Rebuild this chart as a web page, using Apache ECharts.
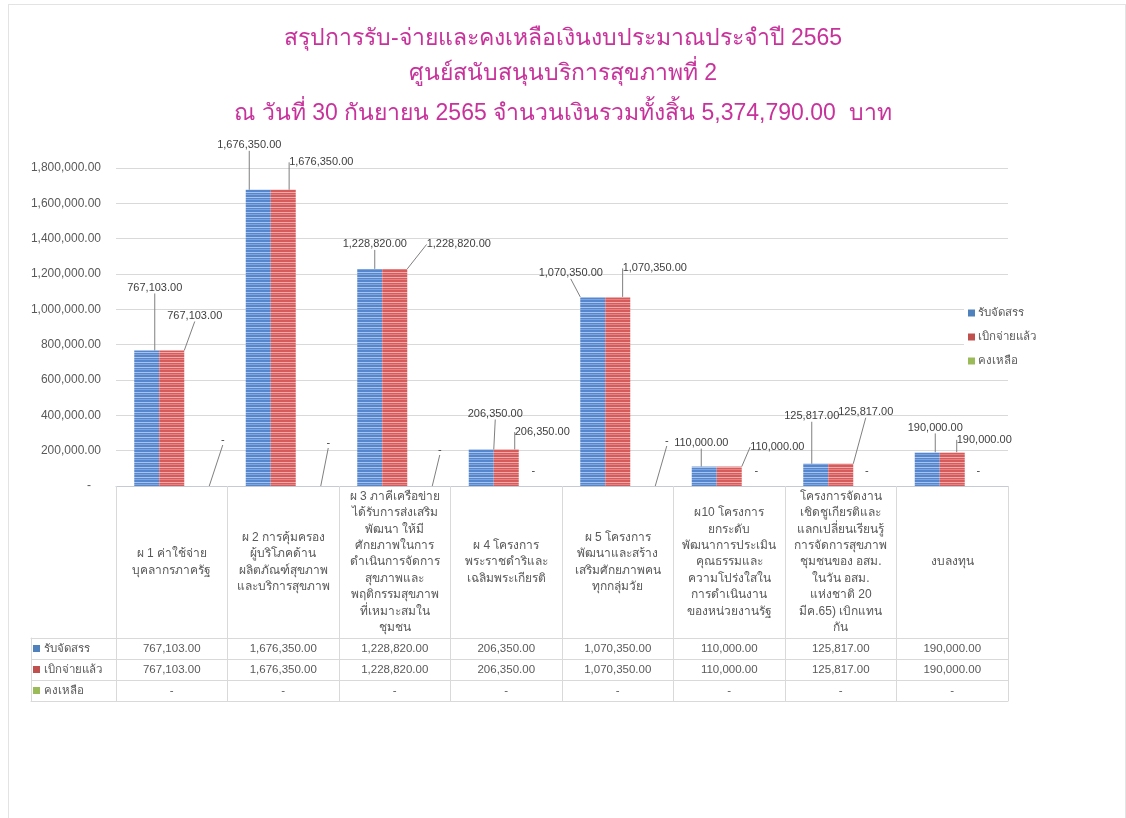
<!DOCTYPE html>
<html>
<head>
<meta charset="utf-8">
<title>สรุปการรับ-จ่ายและคงเหลือเงินงบประมาณ 2565</title>
<script src="https://cdn.jsdelivr.net/npm/echarts@6/dist/echarts.min.js"></script>
<style>
	html, body { margin: 0; padding: 0; background: #fff; }
	#content { width: 1126px; height: 818px; }
	#frame { position: absolute; left: 8px; top: 4px; width: 1116px; height: 830px; border: 1px solid #e3e3e3; pointer-events: none; }
</style>
</head>
<body>
<div id="content"></div>
<div id="frame"></div>
<script>
/* data */
var titleLines = [
	'สรุปการรับ-จ่ายและคงเหลือเงินงบประมาณประจำปี 2565',
	'ศูนย์สนับสนุนบริการสุขภาพที่ 2',
	'ณ วันที่ 30 กันยายน 2565 จำนวนเงินรวมทั้งสิ้น 5,374,790.00  บาท'
];
var categories = [
	'ผ 1 ค่าใช้จ่าย\nบุคลากรภาครัฐ',
	'ผ 2 การคุ้มครอง\nผู้บริโภคด้าน\nผลิตภัณฑ์สุขภาพ\nและบริการสุขภาพ',
	'ผ 3 ภาคีเครือข่าย\nได้รับการส่งเสริม\nพัฒนา ให้มี\nศักยภาพในการ\nดำเนินการจัดการ\nสุขภาพและ\nพฤติกรรมสุขภาพ\nที่เหมาะสมใน\nชุมชน',
	'ผ 4 โครงการ\nพระราชดำริและ\nเฉลิมพระเกียรติ',
	'ผ 5 โครงการ\nพัฒนาและสร้าง\nเสริมศักยภาพคน\nทุกกลุ่มวัย',
	'ผ10 โครงการ\nยกระดับ\nพัฒนาการประเมิน\nคุณธรรมและ\nความโปร่งใสใน\nการดำเนินงาน\nของหน่วยงานรัฐ',
	'โครงการจัดงาน\nเชิดชูเกียรติและ\nแลกเปลี่ยนเรียนรู้\nการจัดการสุขภาพ\nชุมชนของ อสม.\nในวัน อสม.\nแห่งชาติ 20\nมีค.65) เบิกแทน\nกัน',
	'งบลงทุน'
];
var seriesNames = ['รับจัดสรร', 'เบิกจ่ายแล้ว', 'คงเหลือ'];
var allocated = [767103, 1676350, 1228820, 206350, 1070350, 110000, 125817, 190000];
var spent     = [767103, 1676350, 1228820, 206350, 1070350, 110000, 125817, 190000];
var remaining = [0, 0, 0, 0, 0, 0, 0, 0];
var yTicks = { min: 0, max: 1800000, step: 200000 };

/* label moves (layout only) */
var allocShift = [[8,-52],[-9,-34],[5,-14],[14,-25],[-22,-13],[-3,-13],[-4,-37],[8,-14]];
var spentShift = [[23,-24],[38,-17],[64,-14],[36,-7],[37,-18],[48,-9],[25,-41],[32,-2]];
var remainShift = [[26,-36],[20,-33],[20,-26],[2,-5],[24,-35],[2,-5],[1,-5],[1,-5]];
var remainLeader = [true, true, true, false, true, false, false, false];

var colors = ['#4f81bd', '#c0504d', '#9bbb59'];
var FONT = '"Liberation Sans", "DejaVu Sans", "Noto Sans", sans-serif';
var GREY = '#595959';
var LINE = '#d9d9d9';

function money(v){
	if(v === 0) return '-';
	return v.toLocaleString('en-US', {minimumFractionDigits: 2, maximumFractionDigits: 2});
}

/* striped fill like the excel pattern */
function stripes(base, light){
	var c = document.createElement('canvas');
	c.width = 4; c.height = 5;
	var g = c.getContext('2d');
	g.fillStyle = base; g.fillRect(0, 0, 4, 5);
	g.fillStyle = light; g.fillRect(0, 2, 4, 1);
	g.globalAlpha = 0.5; g.fillRect(0, 4, 4, 1);
	return { image: c, repeat: 'repeat' };
}

window.onload = function(){

	var myChart = echarts.init(document.getElementById('content'));

	var HEAD = 152, ROW = 21;
	var rows = [allocated, spent, remaining];

	/* main x axes: header cells + one axis per table row */
	var xAxes = [{
		gridIndex: 0,
		type: 'category',
		data: categories,
		axisLine: { lineStyle: { color: '#c5cbd6' } },
		axisTick: { show: true, alignWithLabel: false, length: HEAD + ROW * 3, lineStyle: { color: LINE } },
		axisLabel: { interval: 0, margin: HEAD / 2, verticalAlign: 'middle', lineHeight: 16.4, fontSize: 12, color: GREY, fontFamily: FONT }
	}];
	rows.forEach(function(arr, r){
		xAxes.push({
			gridIndex: 0,
			type: 'category',
			data: categories,
			position: 'bottom',
			offset: HEAD + ROW * r,
			axisLine: { lineStyle: { color: LINE } },
			axisTick: { show: false },
			axisLabel: {
				interval: 0, margin: ROW / 2, verticalAlign: 'middle', fontSize: 11.5, color: GREY, fontFamily: FONT,
				formatter: function(v, i){ return money(arr[i]); }
			}
		});
	});
	xAxes.push({
		gridIndex: 0, type: 'category', data: categories, position: 'bottom', offset: HEAD + ROW * 3,
		axisLine: { lineStyle: { color: LINE } }, axisTick: { show: false }, axisLabel: { show: false }
	});

	/* row header column of the table */
	['top', 'bottom'].forEach(function(pos){
		xAxes.push({
			gridIndex: 1, type: 'value', min: 0, max: 1, position: pos,
			axisLine: { show: true, lineStyle: { color: LINE } },
			axisTick: { show: false }, axisLabel: { show: false }, splitLine: { show: false }
		});
	});
	var rowRich = { t: { padding: [0, 0, 0, 4], fontSize: 11.5, color: GREY, fontFamily: FONT } };
	colors.forEach(function(c, i){ rowRich['sq' + i] = { width: 7, height: 7, backgroundColor: c }; });

	function barLabel(shift){
		return {
			label: { show: true, position: 'top', fontSize: 11, color: '#404040', fontFamily: FONT, formatter: function(p){ return money(p.value); } },
			labelLine: { show: true, lineStyle: { color: '#7f7f7f', width: 1 } },
			labelLayout: function(p){ return { dx: shift[p.dataIndex][0], dy: shift[p.dataIndex][1] }; }
		};
	}

	var s1 = Object.assign({ name: seriesNames[0], type: 'bar', xAxisIndex: 0, yAxisIndex: 0, barWidth: 25, barGap: '0%',
		itemStyle: { color: stripes('#5586ce', '#a9c4ec') }, data: allocated }, barLabel(allocShift));
	var s2 = Object.assign({ name: seriesNames[1], type: 'bar', xAxisIndex: 0, yAxisIndex: 0, barWidth: 25, barGap: '0%',
		itemStyle: { color: stripes('#d65b5b', '#f2abab') }, data: spent }, barLabel(spentShift));
	var s3 = Object.assign({ name: seriesNames[2], type: 'bar', xAxisIndex: 0, yAxisIndex: 0, barWidth: 25, barGap: '0%',
		itemStyle: { color: colors[2] },
		data: remaining.map(function(v, i){ return { value: v, labelLine: { show: remainLeader[i] } }; }) }, barLabel(remainShift));

	var titleTops = [19, 54, 94];
	var option = {
		animation: false,
		backgroundColor: '#fff',
		title: titleLines.map(function(t, i){
			return {
				text: t, left: 'center', top: titleTops[i],
				textStyle: { fontSize: 23, fontWeight: 'normal', color: '#c8329b', lineHeight: 30, fontFamily: FONT }
			};
		}),
		legend: {
			data: seriesNames.map(function(n, i){ return { name: n, itemStyle: { color: colors[i] } }; }),
			orient: 'vertical',
			left: 964,
			top: 303,
			icon: 'rect',
			itemWidth: 7,
			itemHeight: 7,
			itemGap: 12,
			padding: [4, 8, 4, 4],
			backgroundColor: '#fff',
			textStyle: { fontSize: 11.5, color: GREY, fontFamily: FONT, padding: [0, 0, 0, -2] }
		},
		grid: [
			{ left: 116, right: 118, top: 168, bottom: 332 },
			{ left: 31, width: 85, top: 486 + HEAD, height: ROW * 3 }
		],
		xAxis: xAxes,
		yAxis: [{
			gridIndex: 0,
			type: 'value',
			min: yTicks.min,
			max: yTicks.max,
			interval: yTicks.step,
			axisLine: { show: false },
			axisTick: { show: false },
			splitLine: { lineStyle: { color: LINE } },
			axisLabel: {
				margin: 15, fontSize: 12, color: GREY, fontFamily: FONT,
				formatter: function(v){ return v === 0 ? '-   ' : money(v); }
			}
		}, {
			gridIndex: 1,
			type: 'category',
			data: seriesNames,
			inverse: true,
			axisLine: { show: true, lineStyle: { color: LINE } },
			axisTick: { show: false },
			splitLine: { show: true, lineStyle: { color: LINE } },
			axisLabel: {
				inside: true, margin: 2,
				formatter: function(v, i){ return '{sq' + i + '|}{t|' + v + '}'; },
				rich: rowRich
			}
		}],
		series: [s1, s2, s3]
	};

	myChart.setOption(option);
};
</script>
</body>
</html>
